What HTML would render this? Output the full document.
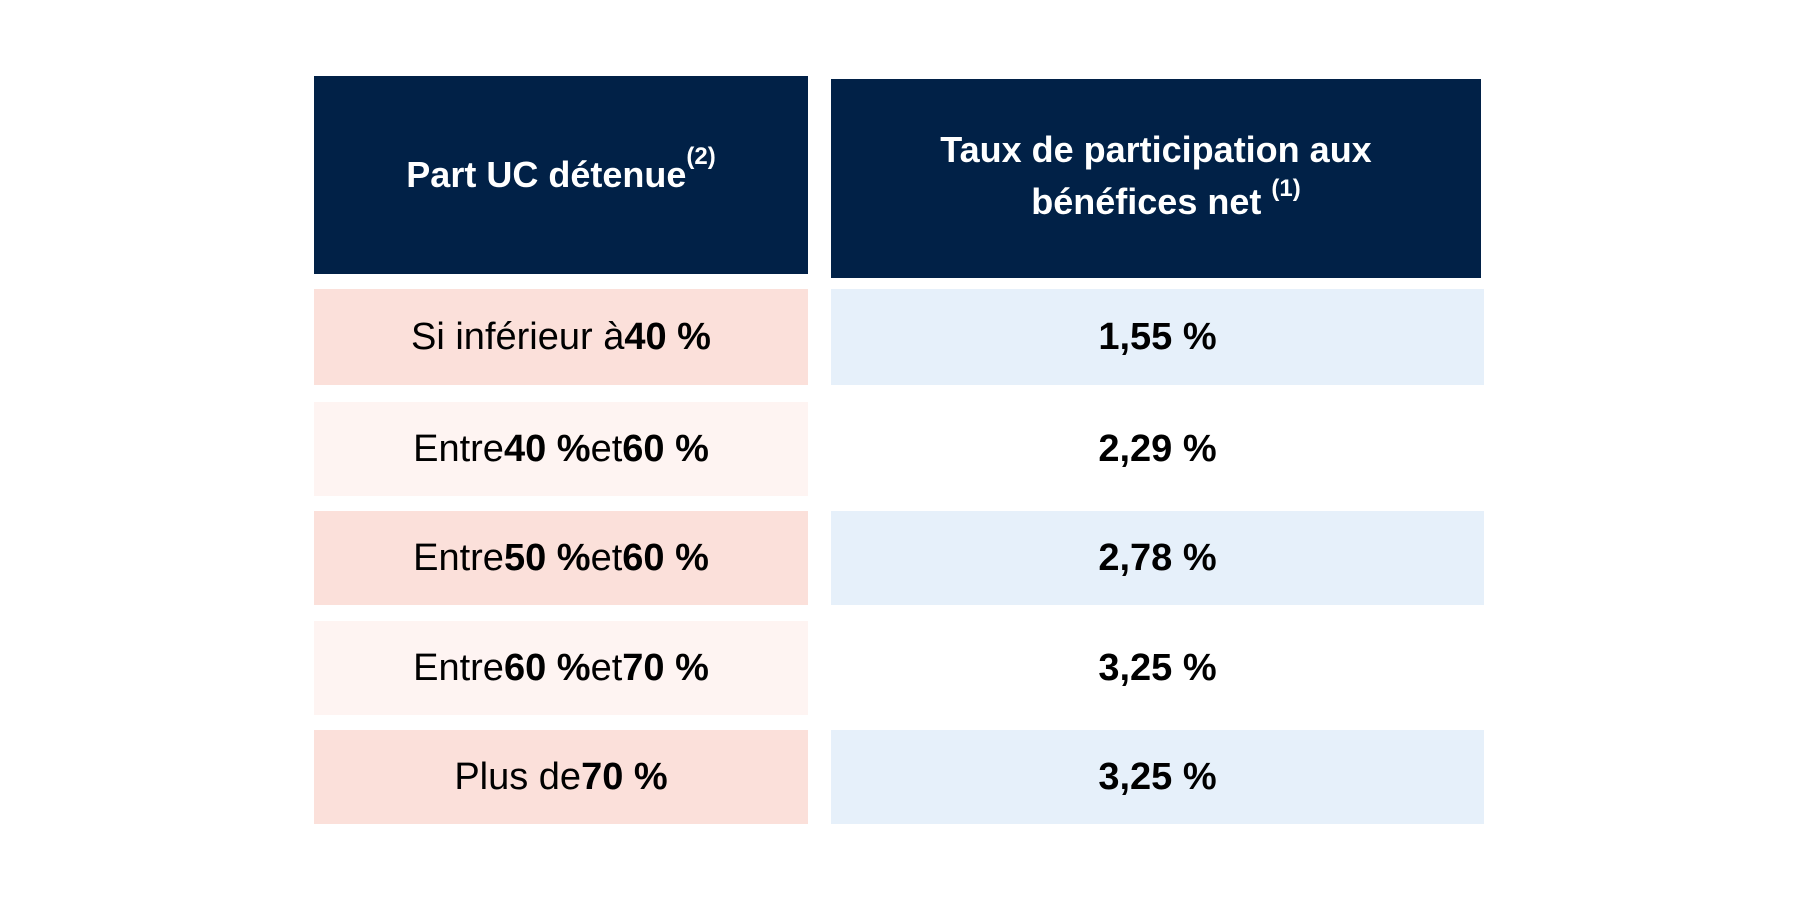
<!DOCTYPE html>
<html><head><meta charset="utf-8"><style>
body{margin:0;width:1800px;height:900px;background:#fff;position:relative;overflow:hidden;font-family:"Liberation Sans",sans-serif}
.c{position:absolute;display:flex;align-items:center;justify-content:center;text-align:center;color:#000;font-size:38px}
.h{background:#012147;color:#fff;font-weight:bold;font-size:36px;line-height:52px}
.dk{background:#fbe0da}.lt{background:#fef4f2}.bl{background:#e6f0fa}.wh{background:#fff}
b{font-weight:bold}
sup{font-size:24px;vertical-align:0;position:relative;top:-18px}
</style></head><body>
<div class="c h" style="left:314px;top:76px;width:494px;height:198px">Part UC détenue<sup>(2)</sup></div>
<div class="c h" style="left:831px;top:79px;width:650px;height:199px"><div>Taux de participation aux<br>&nbsp;&nbsp;bénéfices net <sup>(1)</sup></div></div>
<div id="rows"></div>
<script>
const labels=['Si inférieur à <b>40 %</b>','Entre <b>40 %</b> et <b>60 %</b>','Entre <b>50 %</b> et <b>60 %</b>','Entre <b>60 %</b> et <b>70 %</b>','Plus de <b>70 %</b>'];
const rates=['1,55 %','2,29 %','2,78 %','3,25 %','3,25 %'];
const tops=[289,402,511,621,730];
const hts=[96,94,94,94,94];
const root=document.getElementById('rows');
labels.forEach((l,i)=>{
  const a=document.createElement('div');
  a.className='c '+(i%2?'lt':'dk');
  
  
  a.style.cssText=`left:314px;top:${tops[i]}px;width:494px;height:${hts[i]}px`;
  a.innerHTML=l;root.appendChild(a);
  const b=document.createElement('div');
  b.className='c '+(i%2?'wh':'bl');
  
  
  b.style.cssText=`left:831px;top:${tops[i]}px;width:653px;height:${hts[i]}px;font-weight:bold`;
  b.textContent=rates[i];root.appendChild(b);
});
</script>
</body></html>
